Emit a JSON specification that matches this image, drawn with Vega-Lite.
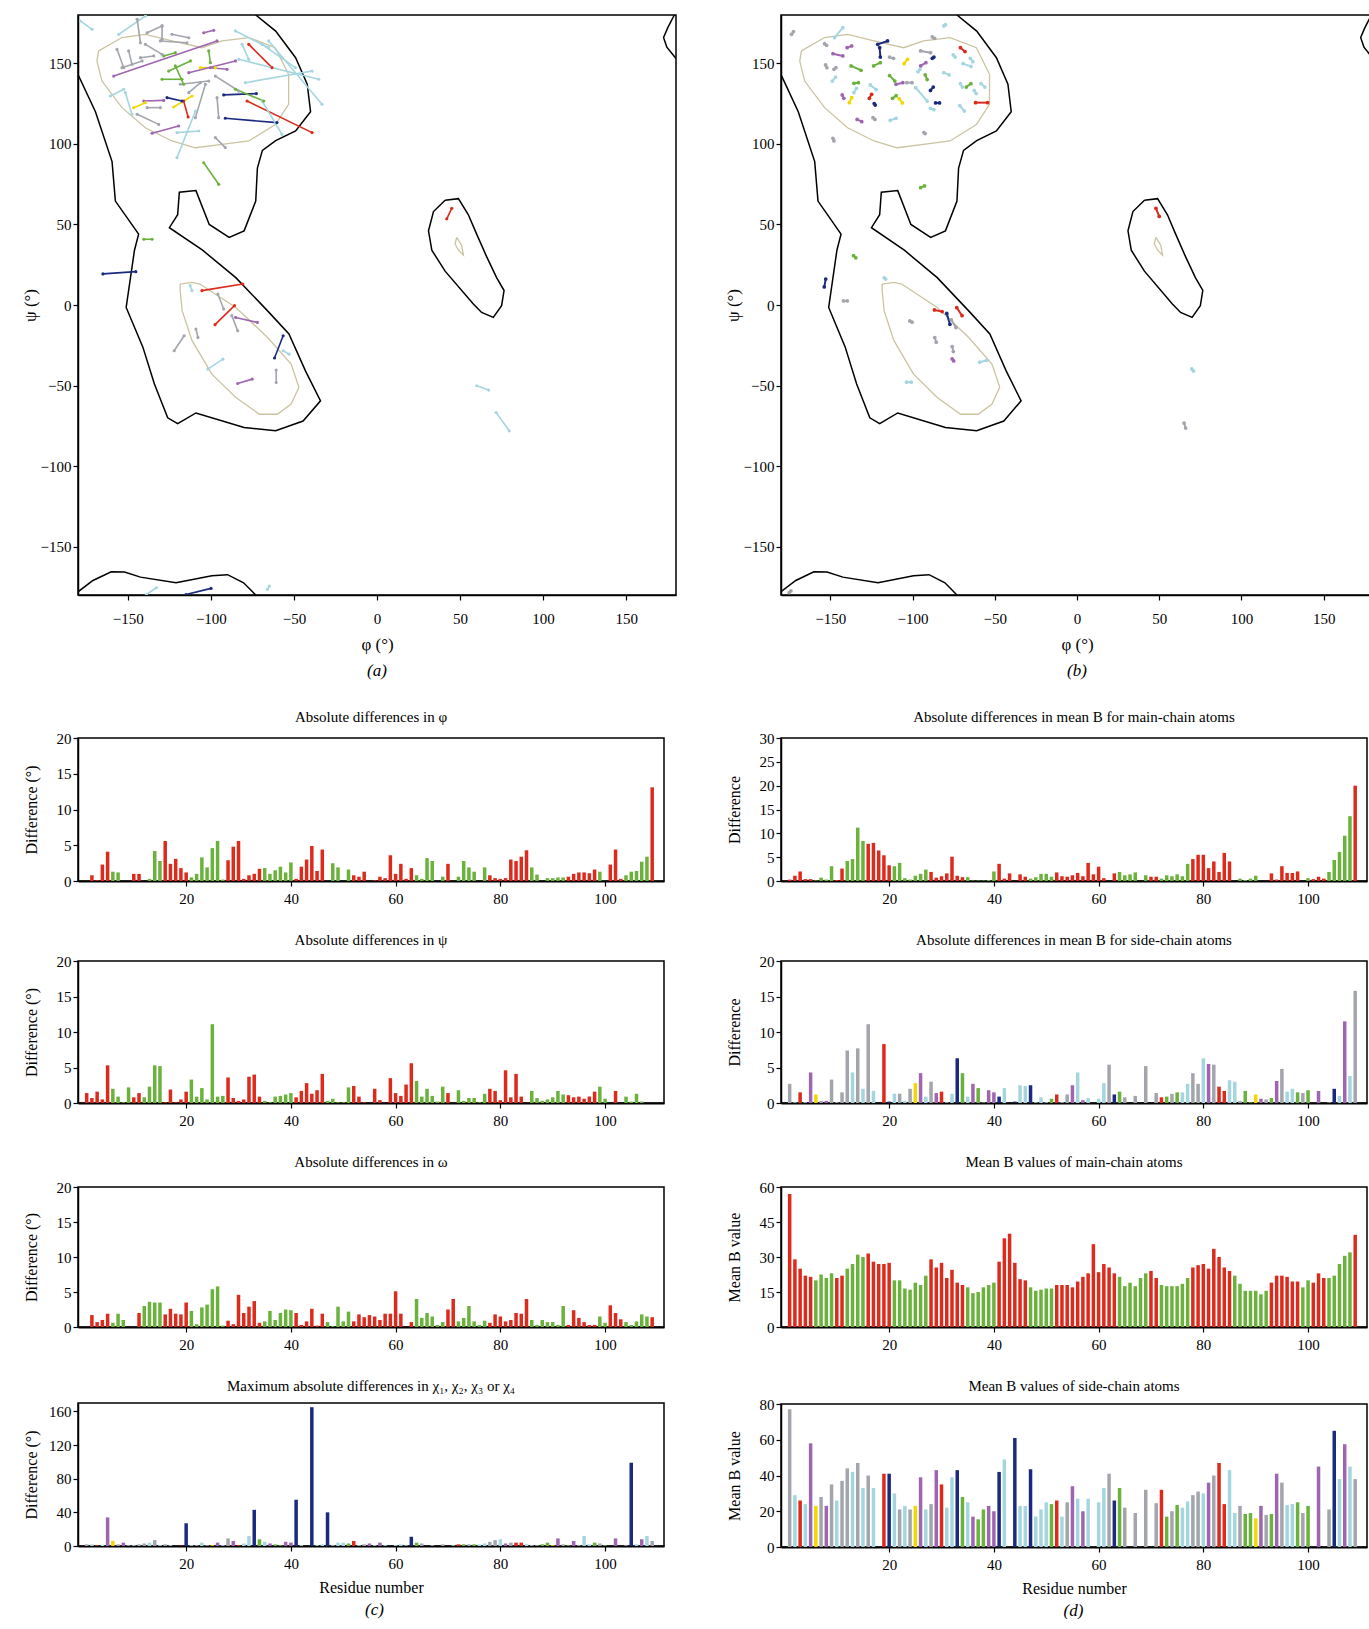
{
"$schema": "https://vega.github.io/schema/vega-lite/v6.json",
"padding": {"left": 20, "top": 14, "right": 0, "bottom": 0},
"autosize": {"type": "pad"},
"background": "white",
"config": {
  "font": "Liberation Serif",
  "view": {"stroke": "black", "strokeWidth": 1.5},
  "axis": {"grid": false, "domainColor": "black", "domainWidth": 1.5, "tickColor": "black", "tickSize": 5, "tickWidth": 1.2, "labelColor": "black", "titleColor": "black", "labelFontSize": 15, "titleFontSize": 16, "titleFontWeight": "normal", "labelFont": "Liberation Serif", "titleFont": "Liberation Serif"},
  "title": {"font": "Liberation Serif", "fontSize": 15, "fontWeight": "normal", "color": "black"}
},
"datasets": {
  "blk": [
    {"id":"k1","o":1,"x":-73,"y":180},{"id":"k1","o":2,"x":-61,"y":170},{"id":"k1","o":3,"x":-49,"y":153.5},{"id":"k1","o":4,"x":-42,"y":137},{"id":"k1","o":5,"x":-40,"y":120},{"id":"k1","o":6,"x":-49,"y":108},{"id":"k1","o":7,"x":-61,"y":102},{"id":"k1","o":8,"x":-69,"y":96},{"id":"k1","o":9,"x":-72,"y":85},{"id":"k1","o":10,"x":-73,"y":64.5},{"id":"k1","o":11,"x":-80,"y":46},{"id":"k1","o":12,"x":-89,"y":42},{"id":"k1","o":13,"x":-101,"y":50},{"id":"k1","o":14,"x":-109,"y":71},{"id":"k1","o":15,"x":-119,"y":70},{"id":"k1","o":16,"x":-120,"y":56},{"id":"k1","o":17,"x":-125,"y":48},{"id":"k1","o":18,"x":-105,"y":34},{"id":"k1","o":19,"x":-85,"y":17},{"id":"k1","o":20,"x":-66,"y":-3.5},{"id":"k1","o":21,"x":-53,"y":-18},{"id":"k1","o":22,"x":-43,"y":-41},{"id":"k1","o":23,"x":-34,"y":-59.5},{"id":"k1","o":24,"x":-44.5,"y":-72},{"id":"k1","o":25,"x":-61,"y":-78},{"id":"k1","o":26,"x":-80,"y":-76},{"id":"k1","o":27,"x":-109,"y":-67},{"id":"k1","o":28,"x":-120,"y":-73.6},{"id":"k1","o":29,"x":-126,"y":-70},{"id":"k1","o":30,"x":-134,"y":-49},{"id":"k1","o":31,"x":-141,"y":-26},{"id":"k1","o":32,"x":-151,"y":-1.5},{"id":"k1","o":33,"x":-146,"y":34},{"id":"k1","o":34,"x":-143.5,"y":44},{"id":"k1","o":35,"x":-157.5,"y":64.5},{"id":"k1","o":36,"x":-159.5,"y":89},{"id":"k1","o":37,"x":-169.5,"y":120},{"id":"k1","o":38,"x":-180,"y":143},
    {"id":"k2","o":1,"x":41,"y":65},{"id":"k2","o":2,"x":49,"y":66},{"id":"k2","o":3,"x":55,"y":56},{"id":"k2","o":4,"x":60,"y":44},{"id":"k2","o":5,"x":66,"y":30},{"id":"k2","o":6,"x":72,"y":17},{"id":"k2","o":7,"x":76.5,"y":9},{"id":"k2","o":8,"x":75,"y":-0.4},{"id":"k2","o":9,"x":70,"y":-7.7},{"id":"k2","o":10,"x":63,"y":-4.6},{"id":"k2","o":11,"x":58,"y":0.6},{"id":"k2","o":12,"x":41,"y":21},{"id":"k2","o":13,"x":33,"y":34},{"id":"k2","o":14,"x":31,"y":46},{"id":"k2","o":15,"x":34,"y":58},{"id":"k2","o":16,"x":41,"y":65},
    {"id":"k3","o":1,"x":179,"y":180},{"id":"k3","o":2,"x":175,"y":172},{"id":"k3","o":3,"x":172.5,"y":166},{"id":"k3","o":4,"x":174.5,"y":160},{"id":"k3","o":5,"x":180,"y":153},
    {"id":"k4","o":1,"x":-180,"y":-178},{"id":"k4","o":2,"x":-171,"y":-171},{"id":"k4","o":3,"x":-160,"y":-165.6},{"id":"k4","o":4,"x":-152,"y":-165.8},{"id":"k4","o":5,"x":-142.4,"y":-168.9},{"id":"k4","o":6,"x":-121,"y":-172.4},{"id":"k4","o":7,"x":-99.4,"y":-168},{"id":"k4","o":8,"x":-90,"y":-167.4},{"id":"k4","o":9,"x":-80.3,"y":-172.4},{"id":"k4","o":10,"x":-73,"y":-180}
  ],
  "bge": [
    {"id":"e1","o":1,"x":-167.6,"y":157.7},{"id":"e1","o":2,"x":-153.5,"y":166},{"id":"e1","o":3,"x":-139.5,"y":168},{"id":"e1","o":4,"x":-123.4,"y":163.9},{"id":"e1","o":5,"x":-105.4,"y":159.7},{"id":"e1","o":6,"x":-93.3,"y":163.9},{"id":"e1","o":7,"x":-77.2,"y":166},{"id":"e1","o":8,"x":-61.2,"y":159.7},{"id":"e1","o":9,"x":-53.2,"y":143.2},{"id":"e1","o":10,"x":-53.2,"y":124.6},{"id":"e1","o":11,"x":-61.2,"y":112},{"id":"e1","o":12,"x":-77.2,"y":101.8},{"id":"e1","o":13,"x":-93.3,"y":99.7},{"id":"e1","o":14,"x":-109.4,"y":97.6},{"id":"e1","o":15,"x":-123.4,"y":101.8},{"id":"e1","o":16,"x":-139.5,"y":110},{"id":"e1","o":17,"x":-153.5,"y":122.5},{"id":"e1","o":18,"x":-165.6,"y":139},{"id":"e1","o":19,"x":-168.6,"y":151.4},{"id":"e1","o":20,"x":-167.6,"y":157.7},
    {"id":"e2","o":1,"x":-118.5,"y":13},{"id":"e2","o":2,"x":-111.4,"y":14},{"id":"e2","o":3,"x":-106.6,"y":13},{"id":"e2","o":4,"x":-85,"y":-1.5},{"id":"e2","o":5,"x":-66,"y":-20},{"id":"e2","o":6,"x":-51.7,"y":-36.7},{"id":"e2","o":7,"x":-47,"y":-51},{"id":"e2","o":8,"x":-51.7,"y":-61.5},{"id":"e2","o":9,"x":-60,"y":-67.8},{"id":"e2","o":10,"x":-70.8,"y":-67.8},{"id":"e2","o":11,"x":-85,"y":-57.4},{"id":"e2","o":12,"x":-99.4,"y":-42.9},{"id":"e2","o":13,"x":-111.4,"y":-22},{"id":"e2","o":14,"x":-117.3,"y":-3.5},{"id":"e2","o":15,"x":-118.5,"y":9},{"id":"e2","o":16,"x":-118.5,"y":13},
    {"id":"e3","o":1,"x":48,"y":42},{"id":"e3","o":2,"x":51,"y":37},{"id":"e3","o":3,"x":52,"y":31},{"id":"e3","o":4,"x":49,"y":34},{"id":"e3","o":5,"x":47,"y":38},{"id":"e3","o":6,"x":48,"y":42}
  ],
  "segA": [
    {"x":-178.6,"y":176.3,"x2":-171.5,"y2":171.1,"c":"L"},{"x":-155.5,"y":168,"x2":-139.4,"y2":179.4,"c":"L"},{"x":-144.4,"y":177.3,"x2":-142.4,"y2":162.8,"c":"A"},{"x":-138.4,"y":169,"x2":-129.4,"y2":173.2,"c":"A"},{"x":-129.4,"y":173.2,"x2":-129.4,"y2":164.9,"c":"A"},{"x":-130.4,"y":163.9,"x2":-114.4,"y2":162.8,"c":"A"},{"x":-123.4,"y":168,"x2":-113.3,"y2":165.9,"c":"A"},{"x":-104.3,"y":169,"x2":-98.3,"y2":170.5,"c":"P"},{"x":-156.5,"y":158.7,"x2":-152.5,"y2":147.3,"c":"A"},{"x":-149.5,"y":157.7,"x2":-147.5,"y2":149.4,"c":"A"},{"x":-153.5,"y":147.3,"x2":-141.4,"y2":151.5,"c":"A"},{"x":-142.4,"y":153.5,"x2":-134.4,"y2":154.6,"c":"A"},{"x":-158.5,"y":142.1,"x2":-96.3,"y2":163.9,"c":"P"},{"x":-139.4,"y":161.8,"x2":-129.4,"y2":155.6,"c":"A"},{"x":-128.4,"y":154.6,"x2":-121.4,"y2":156.6,"c":"G"},{"x":-101.3,"y":157.7,"x2":-100.3,"y2":150.4,"c":"G"},{"x":-106.3,"y":147.3,"x2":-97.3,"y2":147.3,"c":"Y"},{"x":-113.3,"y":144.2,"x2":-85.2,"y2":151.5,"c":"P"},{"x":-100.3,"y":147.3,"x2":-90.3,"y2":146.3,"c":"P"},{"x":-125.4,"y":145.2,"x2":-112.3,"y2":151.5,"c":"G"},{"x":-129.4,"y":140.1,"x2":-117.4,"y2":140.1,"c":"G"},{"x":-121.4,"y":148.4,"x2":-116.4,"y2":137,"c":"G"},{"x":-85.2,"y":170.1,"x2":-65.2,"y2":159.7,"c":"L"},{"x":-81.2,"y":161.8,"x2":-77.2,"y2":152.5,"c":"L"},{"x":-77.2,"y":161.8,"x2":-63.2,"y2":147.3,"c":"R"},{"x":-83.2,"y":152.5,"x2":-35.1,"y2":140.1,"c":"L"},{"x":-69.2,"y":161.8,"x2":-49.1,"y2":147.3,"c":"L"},{"x":-65.2,"y":163.9,"x2":-33.1,"y2":124.6,"c":"L"},{"x":-79.2,"y":138,"x2":-39.1,"y2":145.2,"c":"L"},{"x":-97.3,"y":142.1,"x2":-83.2,"y2":132.8,"c":"A"},{"x":-160.5,"y":129.7,"x2":-152.5,"y2":133.9,"c":"L"},{"x":-151.5,"y":131.8,"x2":-147.5,"y2":118.4,"c":"L"},{"x":-146.5,"y":122.5,"x2":-139.4,"y2":125.6,"c":"Y"},{"x":-140.4,"y":126.6,"x2":-128.4,"y2":127,"c":"P"},{"x":-144.4,"y":118.4,"x2":-131.4,"y2":112.1,"c":"A"},{"x":-138.4,"y":122.5,"x2":-130.4,"y2":122.5,"c":"A"},{"x":-126.4,"y":128.7,"x2":-117.4,"y2":126.6,"c":"N"},{"x":-116.4,"y":126.6,"x2":-113.7,"y2":116.7,"c":"R"},{"x":-122.4,"y":122.9,"x2":-111.3,"y2":129.7,"c":"Y"},{"x":-118.4,"y":137,"x2":-101.3,"y2":139,"c":"A"},{"x":-113.3,"y":131.8,"x2":-106.3,"y2":138,"c":"A"},{"x":-103.3,"y":137,"x2":-109.3,"y2":116.3,"c":"A"},{"x":-92.3,"y":130.4,"x2":-72.6,"y2":131.2,"c":"N"},{"x":-85.2,"y":133.9,"x2":-68.2,"y2":126.6,"c":"G"},{"x":-91.3,"y":115.9,"x2":-60.2,"y2":113.2,"c":"N"},{"x":-78.2,"y":126.6,"x2":-39.1,"y2":107,"c":"R"},{"x":-96.3,"y":128.7,"x2":-95.3,"y2":116.3,"c":"A"},{"x":-135.4,"y":106.6,"x2":-119.4,"y2":111.1,"c":"P"},{"x":-120.4,"y":107,"x2":-107.3,"y2":108,"c":"L"},{"x":-120.4,"y":91.5,"x2":-109.3,"y2":120.4,"c":"L"},{"x":-97.3,"y":103.9,"x2":-91.3,"y2":97.7,"c":"A"},{"x":-69.2,"y":126.6,"x2":-57.2,"y2":105.9,"c":"L"},{"x":-104.3,"y":88.3,"x2":-95.3,"y2":74.9,"c":"G"},{"x":-140.4,"y":40.8,"x2":-135.4,"y2":40.8,"c":"G"},
    {"x":-165,"y":19.3,"x2":-145.2,"y2":20.7,"c":"N"},{"x":-105.4,"y":8.9,"x2":-80.8,"y2":13,"c":"R"},{"x":-112.5,"y":12,"x2":-111.4,"y2":8.9,"c":"L"},{"x":-97.5,"y":-12.2,"x2":-85.8,"y2":-0.4,"c":"R"},{"x":-95.8,"y":6.8,"x2":-92.3,"y2":-2.5,"c":"A"},{"x":-85.1,"y":-7.7,"x2":-72,"y2":-10.8,"c":"P"},{"x":-87.4,"y":-6.6,"x2":-83.9,"y2":-16,"c":"A"},{"x":-109,"y":-14.9,"x2":-107.8,"y2":-20.1,"c":"A"},{"x":-122.1,"y":-28.4,"x2":-116.1,"y2":-19.1,"c":"A"},{"x":-61.7,"y":-32.9,"x2":-56.5,"y2":-19.1,"c":"N"},{"x":-56.5,"y":-28.4,"x2":-52.9,"y2":-30.5,"c":"L"},{"x":-101.8,"y":-39.8,"x2":-92.8,"y2":-33.6,"c":"L"},{"x":-83.9,"y":-48.7,"x2":-75.1,"y2":-46,"c":"P"},{"x":-60.7,"y":-40.4,"x2":-60.7,"y2":-48.1,"c":"A"},{"x":60,"y":-50.1,"x2":67.2,"y2":-52.8,"c":"L"},{"x":71.7,"y":-66.7,"x2":79.6,"y2":-78.1,"c":"L"},{"x":-138.8,"y":-179.7,"x2":-132.8,"y2":-175.5,"c":"L"},{"x":-115,"y":-179.7,"x2":-99.9,"y2":-175.9,"c":"N"},{"x":-66,"y":-176.5,"x2":-64.8,"y2":-174.5,"c":"L"},{"x":42,"y":53.5,"x2":45,"y2":60,"c":"R"}
  ],
  "segB": [
    {"x":-173.6,"y":168,"x2":-172.4,"y2":169.7,"c":"A"},{"x":-147.4,"y":165.9,"x2":-142.4,"y2":172.1,"c":"L"},{"x":-153.5,"y":162.2,"x2":-152.3,"y2":161.2,"c":"A"},{"x":-148.4,"y":156,"x2":-142.4,"y2":154.6,"c":"P"},{"x":-139.8,"y":159.7,"x2":-137,"y2":160.8,"c":"P"},{"x":-152.9,"y":149,"x2":-152.1,"y2":147.3,"c":"A"},{"x":-147.8,"y":146.3,"x2":-146.6,"y2":147.3,"c":"A"},{"x":-148.8,"y":139,"x2":-146.8,"y2":141.5,"c":"L"},{"x":-137.4,"y":148.4,"x2":-131.3,"y2":145.7,"c":"G"},{"x":-123.7,"y":148.4,"x2":-119.6,"y2":150.4,"c":"G"},{"x":-121.2,"y":161.8,"x2":-115.2,"y2":163.9,"c":"N"},{"x":-120,"y":159.7,"x2":-119.6,"y2":153.9,"c":"N"},{"x":-114,"y":153.9,"x2":-111.6,"y2":153.1,"c":"A"},{"x":-105.1,"y":149.8,"x2":-103.1,"y2":152.5,"c":"Y"},{"x":-95.1,"y":157.7,"x2":-89,"y2":156.6,"c":"A"},{"x":-88,"y":153.1,"x2":-87,"y2":153.9,"c":"N"},{"x":-95.1,"y":148.4,"x2":-91.9,"y2":150.4,"c":"P"},{"x":-96.7,"y":144.8,"x2":-95.5,"y2":146.3,"c":"L"},{"x":-92.3,"y":142.8,"x2":-91.1,"y2":139.9,"c":"G"},{"x":-114,"y":142.4,"x2":-110.8,"y2":139,"c":"G"},{"x":-110,"y":137,"x2":-105.9,"y2":138,"c":"P"},{"x":-103.5,"y":138,"x2":-100.3,"y2":138,"c":"A"},{"x":-98.1,"y":134.9,"x2":-91.1,"y2":126.6,"c":"L"},{"x":-89.1,"y":133.2,"x2":-87.4,"y2":135.3,"c":"N"},{"x":-86,"y":125.4,"x2":-83.6,"y2":125.4,"c":"N"},{"x":-112.2,"y":128.3,"x2":-110,"y2":129.9,"c":"G"},{"x":-108.2,"y":128.1,"x2":-106.2,"y2":125.4,"c":"Y"},{"x":-126.3,"y":128.3,"x2":-124.9,"y2":130.8,"c":"R"},{"x":-123.3,"y":125,"x2":-122.7,"y2":124.1,"c":"N"},{"x":-142.8,"y":130.4,"x2":-141.8,"y2":128.3,"c":"P"},{"x":-138.4,"y":125.6,"x2":-137,"y2":128.7,"c":"Y"},{"x":-135.7,"y":131.8,"x2":-134.1,"y2":134.5,"c":"L"},{"x":-135.7,"y":137.6,"x2":-132.9,"y2":138,"c":"G"},{"x":-125.7,"y":136.6,"x2":-122.1,"y2":133.7,"c":"L"},{"x":-124.1,"y":116.3,"x2":-122.9,"y2":115.2,"c":"A"},{"x":-133.7,"y":115.2,"x2":-130.9,"y2":113.8,"c":"P"},{"x":-113.6,"y":114.6,"x2":-110,"y2":115.9,"c":"L"},{"x":-93.1,"y":107,"x2":-92.3,"y2":106.4,"c":"A"},{"x":-148.4,"y":103.5,"x2":-147.8,"y2":101.8,"c":"A"},{"x":-70.9,"y":159.7,"x2":-68.1,"y2":157.3,"c":"R"},{"x":-75.3,"y":155.2,"x2":-74.1,"y2":153.9,"c":"L"},{"x":-69.3,"y":149.8,"x2":-64.5,"y2":148.1,"c":"L"},{"x":-64.9,"y":153.1,"x2":-63.3,"y2":151,"c":"L"},{"x":-81,"y":144.2,"x2":-77.8,"y2":142.8,"c":"L"},{"x":-70.9,"y":137.4,"x2":-69.7,"y2":135.3,"c":"L"},{"x":-67.3,"y":135.3,"x2":-64.5,"y2":137.4,"c":"G"},{"x":-58.4,"y":137.4,"x2":-56,"y2":135.3,"c":"L"},{"x":-61.7,"y":125.6,"x2":-54.4,"y2":125.6,"c":"R"},{"x":-71.3,"y":123.7,"x2":-68.5,"y2":120.4,"c":"L"},{"x":-89.1,"y":122.1,"x2":-87,"y2":121.2,"c":"L"},{"x":-81,"y":173.2,"x2":-80,"y2":174,"c":"L"},{"x":-88,"y":166.4,"x2":-86.6,"y2":165.5,"c":"A"},{"x":-95.1,"y":72.8,"x2":-92.7,"y2":73.9,"c":"G"},{"x":-62.5,"y":133.2,"x2":-61.3,"y2":131.2,"c":"L"},
    {"x":-135.9,"y":30.6,"x2":-134.5,"y2":29.3,"c":"G"},{"x":-152.8,"y":16.1,"x2":-153.7,"y2":11.2,"c":"N"},{"x":-117.2,"y":16.9,"x2":-116.3,"y2":16.1,"c":"L"},{"x":-142,"y":2.5,"x2":-139.7,"y2":2.5,"c":"A"},{"x":-86.7,"y":-3.1,"x2":-82,"y2":-4.1,"c":"R"},{"x":-73.1,"y":-1.7,"x2":-69.9,"y2":-6.6,"c":"R"},{"x":-79.2,"y":-5.2,"x2":-77.3,"y2":-12,"c":"N"},{"x":-76.4,"y":-9.3,"x2":-73.6,"y2":-14,"c":"A"},{"x":-101.7,"y":-9.9,"x2":-100.3,"y2":-10.7,"c":"A"},{"x":-86.5,"y":-20.2,"x2":-85.6,"y2":-23.1,"c":"A"},{"x":-75.9,"y":-25.8,"x2":-75.2,"y2":-28.9,"c":"A"},{"x":-75.9,"y":-33.5,"x2":-75,"y2":-34.7,"c":"P"},{"x":-59.1,"y":-35.5,"x2":-54.9,"y2":-34.3,"c":"L"},{"x":-103.6,"y":-47.9,"x2":-100.8,"y2":-47.9,"c":"L"},{"x":69.8,"y":-39.7,"x2":70.8,"y2":-40.9,"c":"L"},{"x":65.1,"y":-73.3,"x2":66.1,"y2":-76.4,"c":"A"},{"x":48,"y":60,"x2":50,"y2":55,"c":"R"},{"x":-175,"y":-178.5,"x2":-174,"y2":-177.5,"c":"A"}
  ],
  "res": [
    {"r":1,"ss":"R","sc":"A","phi":null,"psi":1.4,"om":null,"chi":2,"dbm":0.3,"dbs":2.7,"bm":57,"bs":77},
    {"r":2,"ss":"R","sc":"L","phi":0.8,"psi":0.7,"om":1.7,"chi":2,"dbm":1.1,"dbs":0.1,"bm":29,"bs":29},
    {"r":3,"ss":"R","sc":"R","phi":0.1,"psi":1.6,"om":0.7,"chi":1,"dbm":2.0,"dbs":1.5,"bm":25,"bs":26},
    {"r":4,"ss":"R","sc":"L","phi":2.3,"psi":0.5,"om":1.0,"chi":1.5,"dbm":0.4,"dbs":0.1,"bm":22,"bs":24},
    {"r":5,"ss":"R","sc":"P","phi":4.1,"psi":5.3,"om":1.9,"chi":34,"dbm":0.4,"dbs":4.3,"bm":21.5,"bs":58},
    {"r":6,"ss":"G","sc":"Y","phi":1.3,"psi":2.0,"om":0.6,"chi":6,"dbm":0.1,"dbs":1.2,"bm":20,"bs":23},
    {"r":7,"ss":"G","sc":"A","phi":1.2,"psi":0.9,"om":1.9,"chi":2,"dbm":0.7,"dbs":0.3,"bm":22.5,"bs":28},
    {"r":8,"ss":"G","sc":"P","phi":null,"psi":0.1,"om":1.0,"chi":4,"dbm":0.3,"dbs":0.3,"bm":21,"bs":23},
    {"r":9,"ss":"G","sc":"A","phi":null,"psi":2.2,"om":null,"chi":1,"dbm":3.1,"dbs":3.3,"bm":23,"bs":35},
    {"r":10,"ss":"R","sc":"L","phi":1.0,"psi":0.8,"om":null,"chi":1,"dbm":0.2,"dbs":0.1,"bm":21,"bs":26},
    {"r":11,"ss":"R","sc":"A","phi":1.0,"psi":1.4,"om":2.0,"chi":2,"dbm":2.6,"dbs":1.5,"bm":22,"bs":37},
    {"r":12,"ss":"G","sc":"A","phi":null,"psi":0.8,"om":3.0,"chi":3,"dbm":4.2,"dbs":7.4,"bm":25,"bs":44},
    {"r":13,"ss":"G","sc":"L","phi":0.3,"psi":2.3,"om":3.6,"chi":4,"dbm":4.6,"dbs":4.3,"bm":27,"bs":42},
    {"r":14,"ss":"G","sc":"A","phi":4.2,"psi":5.3,"om":3.5,"chi":7,"dbm":11.2,"dbs":7.7,"bm":31,"bs":47},
    {"r":15,"ss":"G","sc":"L","phi":2.8,"psi":5.2,"om":3.5,"chi":1,"dbm":8.4,"dbs":2.0,"bm":30,"bs":33},
    {"r":16,"ss":"R","sc":"A","phi":5.6,"psi":0.1,"om":1.8,"chi":2,"dbm":7.8,"dbs":11.1,"bm":31.5,"bs":40},
    {"r":17,"ss":"R","sc":"L","phi":2.4,"psi":1.9,"om":2.6,"chi":1,"dbm":8.0,"dbs":1.7,"bm":28,"bs":33},
    {"r":18,"ss":"R","sc":"A","phi":3.1,"psi":0.1,"om":1.9,"chi":null,"dbm":6.4,"dbs":null,"bm":27,"bs":null},
    {"r":19,"ss":"R","sc":"R","phi":1.8,"psi":0.5,"om":1.8,"chi":0.5,"dbm":5.4,"dbs":8.3,"bm":27,"bs":41},
    {"r":20,"ss":"R","sc":"N","phi":1.2,"psi":1.6,"om":3.5,"chi":27,"dbm":3.3,"dbs":0.2,"bm":27.5,"bs":41},
    {"r":21,"ss":"G","sc":"L","phi":0.5,"psi":3.3,"om":2.3,"chi":1,"dbm":3.1,"dbs":1.3,"bm":20,"bs":30},
    {"r":22,"ss":"G","sc":"A","phi":1.0,"psi":0.9,"om":0.4,"chi":1,"dbm":3.8,"dbs":1.3,"bm":20,"bs":21},
    {"r":23,"ss":"G","sc":"L","phi":3.3,"psi":2.1,"om":2.8,"chi":4,"dbm":0.6,"dbs":0.3,"bm":16.5,"bs":23},
    {"r":24,"ss":"G","sc":"A","phi":1.9,"psi":0.5,"om":3.2,"chi":1,"dbm":0.3,"dbs":2.0,"bm":16,"bs":21},
    {"r":25,"ss":"G","sc":"Y","phi":4.6,"psi":11.1,"om":5.4,"chi":1,"dbm":1.1,"dbs":2.8,"bm":19,"bs":23},
    {"r":26,"ss":"G","sc":"P","phi":5.6,"psi":0.9,"om":5.8,"chi":4,"dbm":1.5,"dbs":4.2,"bm":18,"bs":39},
    {"r":27,"ss":"G","sc":"L","phi":0.2,"psi":1.0,"om":0.2,"chi":1,"dbm":2.4,"dbs":0.9,"bm":22,"bs":21},
    {"r":28,"ss":"R","sc":"A","phi":2.9,"psi":3.6,"om":0.9,"chi":9,"dbm":1.9,"dbs":3.0,"bm":29,"bs":24},
    {"r":29,"ss":"R","sc":"P","phi":4.8,"psi":0.7,"om":0.4,"chi":6,"dbm":0.7,"dbs":1.4,"bm":25.5,"bs":43},
    {"r":30,"ss":"R","sc":"R","phi":5.6,"psi":0.3,"om":4.6,"chi":1,"dbm":1.0,"dbs":1.6,"bm":27.5,"bs":35},
    {"r":31,"ss":"R","sc":"L","phi":0.3,"psi":0.5,"om":2.0,"chi":3,"dbm":1.6,"dbs":0.1,"bm":21,"bs":22},
    {"r":32,"ss":"R","sc":"L","phi":0.8,"psi":3.7,"om":2.9,"chi":12,"dbm":5.1,"dbs":1.3,"bm":24.5,"bs":39},
    {"r":33,"ss":"R","sc":"N","phi":1.0,"psi":4.0,"om":3.7,"chi":43,"dbm":1.1,"dbs":6.3,"bm":19,"bs":43},
    {"r":34,"ss":"R","sc":"G","phi":1.7,"psi":0.9,"om":0.6,"chi":8,"dbm":0.8,"dbs":4.2,"bm":18,"bs":28},
    {"r":35,"ss":"G","sc":"L","phi":1.8,"psi":0.3,"om":0.8,"chi":5,"dbm":0.8,"dbs":0.9,"bm":17,"bs":25},
    {"r":36,"ss":"G","sc":"P","phi":1.0,"psi":0.1,"om":2.3,"chi":3,"dbm":0.1,"dbs":2.7,"bm":14.5,"bs":17},
    {"r":37,"ss":"G","sc":"G","phi":1.5,"psi":0.9,"om":1.0,"chi":2,"dbm":0.1,"dbs":2.1,"bm":15,"bs":15.5},
    {"r":38,"ss":"G","sc":"G","phi":2.0,"psi":1.0,"om":2.0,"chi":1,"dbm":0.1,"dbs":0.1,"bm":17,"bs":21},
    {"r":39,"ss":"G","sc":"P","phi":1.2,"psi":1.2,"om":2.5,"chi":5,"dbm":0.2,"dbs":1.8,"bm":18,"bs":23},
    {"r":40,"ss":"G","sc":"P","phi":2.6,"psi":1.4,"om":2.4,"chi":4,"dbm":2.0,"dbs":1.5,"bm":19,"bs":20},
    {"r":41,"ss":"R","sc":"N","phi":0.3,"psi":0.8,"om":2.0,"chi":55,"dbm":3.6,"dbs":0.9,"bm":28,"bs":42},
    {"r":42,"ss":"R","sc":"L","phi":2.0,"psi":1.7,"om":0.3,"chi":1,"dbm":0.5,"dbs":2.1,"bm":38,"bs":49},
    {"r":43,"ss":"R","sc":"A","phi":3.0,"psi":2.8,"om":0.8,"chi":null,"dbm":1.6,"dbs":null,"bm":40,"bs":null},
    {"r":44,"ss":"R","sc":"N","phi":4.9,"psi":1.3,"om":2.6,"chi":165,"dbm":null,"dbs":0.2,"bm":27.5,"bs":61},
    {"r":45,"ss":"R","sc":"L","phi":1.4,"psi":1.8,"om":0.2,"chi":1,"dbm":1.4,"dbs":2.5,"bm":20.5,"bs":23},
    {"r":46,"ss":"R","sc":"L","phi":4.4,"psi":4.1,"om":1.9,"chi":2,"dbm":0.9,"dbs":2.4,"bm":20,"bs":23},
    {"r":47,"ss":"G","sc":"N","phi":null,"psi":0.3,"om":0.7,"chi":40,"dbm":0.5,"dbs":2.5,"bm":17,"bs":43.5},
    {"r":48,"ss":"G","sc":"L","phi":2.5,"psi":0.6,"om":0.1,"chi":1,"dbm":0.8,"dbs":0.1,"bm":15.5,"bs":17},
    {"r":49,"ss":"G","sc":"L","phi":1.9,"psi":0.1,"om":2.9,"chi":4,"dbm":1.5,"dbs":0.8,"bm":16,"bs":21},
    {"r":50,"ss":"G","sc":"L","phi":null,"psi":0.1,"om":0.8,"chi":4,"dbm":1.5,"dbs":0.1,"bm":16.5,"bs":25},
    {"r":51,"ss":"G","sc":"G","phi":1.6,"psi":2.2,"om":2.2,"chi":3,"dbm":0.9,"dbs":0.6,"bm":16.5,"bs":24},
    {"r":52,"ss":"R","sc":"R","phi":0.8,"psi":2.4,"om":0.8,"chi":6,"dbm":1.8,"dbs":1.2,"bm":18,"bs":26},
    {"r":53,"ss":"R","sc":"L","phi":0.6,"psi":0.9,"om":1.8,"chi":1,"dbm":1.0,"dbs":0.1,"bm":18,"bs":17},
    {"r":54,"ss":"R","sc":"A","phi":1.3,"psi":0.1,"om":1.4,"chi":2,"dbm":0.9,"dbs":1.2,"bm":18,"bs":25},
    {"r":55,"ss":"R","sc":"P","phi":null,"psi":null,"om":1.7,"chi":3,"dbm":1.2,"dbs":2.5,"bm":17,"bs":34},
    {"r":56,"ss":"R","sc":"L","phi":0.1,"psi":2.0,"om":1.5,"chi":1,"dbm":1.7,"dbs":4.3,"bm":19.5,"bs":27},
    {"r":57,"ss":"R","sc":"P","phi":0.6,"psi":0.4,"om":1.0,"chi":4,"dbm":1.0,"dbs":0.4,"bm":21.5,"bs":20},
    {"r":58,"ss":"R","sc":"L","phi":0.4,"psi":null,"om":1.9,"chi":1,"dbm":3.8,"dbs":0.7,"bm":23,"bs":27},
    {"r":59,"ss":"R","sc":"A","phi":3.6,"psi":3.5,"om":1.9,"chi":null,"dbm":1.4,"dbs":null,"bm":35.5,"bs":null},
    {"r":60,"ss":"R","sc":"L","phi":1.0,"psi":1.4,"om":5.1,"chi":1,"dbm":3.0,"dbs":0.6,"bm":23.5,"bs":25},
    {"r":61,"ss":"R","sc":"L","phi":2.4,"psi":1.0,"om":1.9,"chi":2,"dbm":0.6,"dbs":2.8,"bm":27,"bs":33},
    {"r":62,"ss":"R","sc":"A","phi":0.3,"psi":2.6,"om":null,"chi":1,"dbm":null,"dbs":5.4,"bm":25.5,"bs":41},
    {"r":63,"ss":"R","sc":"N","phi":1.8,"psi":5.6,"om":0.7,"chi":11,"dbm":1.6,"dbs":1.2,"bm":23,"bs":26},
    {"r":64,"ss":"G","sc":"G","phi":0.8,"psi":3.1,"om":4.0,"chi":4,"dbm":1.9,"dbs":1.6,"bm":21.5,"bs":33},
    {"r":65,"ss":"G","sc":"A","phi":0.3,"psi":0.9,"om":1.3,"chi":3,"dbm":1.2,"dbs":0.8,"bm":17.5,"bs":22},
    {"r":66,"ss":"G","sc":"A","phi":3.2,"psi":2.0,"om":2.0,"chi":null,"dbm":1.4,"dbs":null,"bm":19,"bs":null},
    {"r":67,"ss":"G","sc":"A","phi":2.8,"psi":1.0,"om":1.5,"chi":1,"dbm":1.8,"dbs":1.0,"bm":17.5,"bs":19},
    {"r":68,"ss":"G","sc":"A","phi":null,"psi":0.2,"om":0.3,"chi":null,"dbm":null,"dbs":null,"bm":21,"bs":null},
    {"r":69,"ss":"G","sc":"A","phi":0.6,"psi":2.3,"om":0.7,"chi":2,"dbm":1.2,"dbs":5.2,"bm":23,"bs":32},
    {"r":70,"ss":"R","sc":"A","phi":2.4,"psi":1.4,"om":2.5,"chi":null,"dbm":0.9,"dbs":null,"bm":24,"bs":null},
    {"r":71,"ss":"R","sc":"A","phi":null,"psi":null,"om":4.0,"chi":1,"dbm":0.9,"dbs":1.4,"bm":21,"bs":24.5},
    {"r":72,"ss":"G","sc":"R","phi":0.6,"psi":1.8,"om":0.8,"chi":2,"dbm":0.5,"dbs":0.8,"bm":18,"bs":32},
    {"r":73,"ss":"G","sc":"G","phi":2.8,"psi":0.3,"om":1.3,"chi":2,"dbm":1.2,"dbs":0.9,"bm":17.5,"bs":17},
    {"r":74,"ss":"G","sc":"A","phi":1.9,"psi":0.7,"om":3.0,"chi":2,"dbm":1.0,"dbs":1.3,"bm":17.5,"bs":20},
    {"r":75,"ss":"G","sc":"G","phi":1.3,"psi":0.7,"om":0.8,"chi":2,"dbm":1.4,"dbs":1.5,"bm":17.5,"bs":23.5},
    {"r":76,"ss":"G","sc":"L","phi":null,"psi":0.1,"om":0.3,"chi":2,"dbm":1.0,"dbs":1.5,"bm":18.5,"bs":22},
    {"r":77,"ss":"G","sc":"L","phi":1.9,"psi":1.3,"om":0.9,"chi":3,"dbm":3.6,"dbs":2.7,"bm":21,"bs":25.5},
    {"r":78,"ss":"R","sc":"A","phi":0.8,"psi":2.0,"om":0.6,"chi":5,"dbm":4.6,"dbs":4.2,"bm":25.5,"bs":29},
    {"r":79,"ss":"R","sc":"A","phi":0.4,"psi":1.7,"om":1.8,"chi":7,"dbm":5.5,"dbs":2.7,"bm":26.5,"bs":31},
    {"r":80,"ss":"R","sc":"L","phi":0.3,"psi":0.4,"om":1.5,"chi":8,"dbm":5.5,"dbs":6.3,"bm":27,"bs":30},
    {"r":81,"ss":"R","sc":"P","phi":0.4,"psi":4.6,"om":0.8,"chi":3,"dbm":2.7,"dbs":5.5,"bm":25,"bs":36},
    {"r":82,"ss":"R","sc":"A","phi":3.0,"psi":0.8,"om":1.0,"chi":4,"dbm":4.1,"dbs":5.4,"bm":33.5,"bs":40},
    {"r":83,"ss":"R","sc":"R","phi":2.8,"psi":4.1,"om":2.0,"chi":4,"dbm":1.9,"dbs":2.3,"bm":30,"bs":47},
    {"r":84,"ss":"R","sc":"R","phi":3.4,"psi":0.9,"om":1.9,"chi":4,"dbm":5.9,"dbs":1.7,"bm":25.5,"bs":24},
    {"r":85,"ss":"R","sc":"L","phi":4.3,"psi":null,"om":4.0,"chi":2,"dbm":4.1,"dbs":3.2,"bm":24,"bs":43},
    {"r":86,"ss":"G","sc":"L","phi":1.9,"psi":1.7,"om":1.0,"chi":1,"dbm":null,"dbs":3.0,"bm":22,"bs":19},
    {"r":87,"ss":"G","sc":"A","phi":0.9,"psi":0.7,"om":0.3,"chi":1,"dbm":0.5,"dbs":0.3,"bm":18.5,"bs":23},
    {"r":88,"ss":"G","sc":"G","phi":null,"psi":0.3,"om":1.0,"chi":2,"dbm":0.2,"dbs":1.7,"bm":15.5,"bs":18.5},
    {"r":89,"ss":"G","sc":"G","phi":0.4,"psi":0.5,"om":0.7,"chi":4,"dbm":0.5,"dbs":0.1,"bm":15.5,"bs":19},
    {"r":90,"ss":"G","sc":"Y","phi":0.4,"psi":0.8,"om":0.7,"chi":1,"dbm":1.1,"dbs":1.2,"bm":15.5,"bs":16},
    {"r":91,"ss":"G","sc":"P","phi":0.5,"psi":1.7,"om":0.3,"chi":9,"dbm":null,"dbs":0.6,"bm":14,"bs":23},
    {"r":92,"ss":"G","sc":"A","phi":0.5,"psi":1.2,"om":3.0,"chi":2,"dbm":null,"dbs":0.5,"bm":15.5,"bs":18},
    {"r":93,"ss":"R","sc":"G","phi":0.6,"psi":1.1,"om":0.3,"chi":1,"dbm":1.6,"dbs":0.7,"bm":19,"bs":18.5},
    {"r":94,"ss":"R","sc":"P","phi":1.0,"psi":0.8,"om":2.4,"chi":6,"dbm":0.3,"dbs":3.1,"bm":22,"bs":41},
    {"r":95,"ss":"R","sc":"A","phi":1.2,"psi":0.9,"om":1.3,"chi":1,"dbm":3.1,"dbs":4.8,"bm":22,"bs":36},
    {"r":96,"ss":"R","sc":"L","phi":1.2,"psi":0.6,"om":0.7,"chi":12,"dbm":1.7,"dbs":1.6,"bm":21.5,"bs":23.5},
    {"r":97,"ss":"R","sc":"L","phi":1.1,"psi":0.9,"om":0.3,"chi":2,"dbm":1.7,"dbs":2.0,"bm":19.5,"bs":24},
    {"r":98,"ss":"R","sc":"G","phi":1.6,"psi":1.6,"om":0.3,"chi":4,"dbm":2.0,"dbs":1.5,"bm":19.5,"bs":25},
    {"r":99,"ss":"G","sc":"A","phi":1.3,"psi":2.3,"om":1.5,"chi":3,"dbm":null,"dbs":1.4,"bm":17,"bs":19},
    {"r":100,"ss":"G","sc":"G","phi":null,"psi":0.6,"om":0.6,"chi":1,"dbm":0.6,"dbs":1.8,"bm":20,"bs":23},
    {"r":101,"ss":"R","sc":"A","phi":2.3,"psi":null,"om":3.1,"chi":null,"dbm":0.4,"dbs":null,"bm":19,"bs":null},
    {"r":102,"ss":"R","sc":"P","phi":4.4,"psi":1.7,"om":2.0,"chi":9,"dbm":0.9,"dbs":1.7,"bm":23,"bs":45},
    {"r":103,"ss":"R","sc":"A","phi":0.3,"psi":null,"om":1.1,"chi":null,"dbm":0.5,"dbs":null,"bm":21,"bs":null},
    {"r":104,"ss":"G","sc":"A","phi":0.8,"psi":0.9,"om":0.7,"chi":1,"dbm":1.9,"dbs":0.1,"bm":21,"bs":21},
    {"r":105,"ss":"G","sc":"N","phi":1.3,"psi":0.2,"om":0.3,"chi":99,"dbm":4.4,"dbs":2.0,"bm":22,"bs":65},
    {"r":106,"ss":"G","sc":"L","phi":1.4,"psi":1.3,"om":0.8,"chi":2,"dbm":6.1,"dbs":1.0,"bm":27,"bs":38},
    {"r":107,"ss":"G","sc":"P","phi":2.7,"psi":0.2,"om":1.8,"chi":8,"dbm":9.5,"dbs":11.5,"bm":30.5,"bs":57.5},
    {"r":108,"ss":"G","sc":"L","phi":3.4,"psi":null,"om":1.5,"chi":12,"dbm":13.6,"dbs":3.8,"bm":32,"bs":45},
    {"r":109,"ss":"R","sc":"A","phi":13.1,"psi":null,"om":1.4,"chi":6,"dbm":20.0,"dbs":15.8,"bm":39.5,"bs":38}
  ]
},
"vconcat": [
  {
    "hconcat": [
      {
        "width": 598, "height": 580,
        "title": {"text": "(a)", "orient": "bottom", "fontStyle": "italic", "fontSize": 17, "offset": 11},
        "layer": [
          {"data": {"name": "blk"}, "mark": {"type": "line", "color": "black", "strokeWidth": 1.5, "clip": true},
           "encoding": {
             "x": {"field": "x", "type": "quantitative", "scale": {"domain": [-180, 180], "nice": false, "zero": false}, "axis": {"values": [-150, -100, -50, 0, 50, 100, 150], "title": "φ (°)", "labelPadding": 11, "titlePadding": 10, "titleFontSize": 17}},
             "y": {"field": "y", "type": "quantitative", "scale": {"domain": [-180, 180], "nice": false, "zero": false}, "axis": {"values": [-150, -100, -50, 0, 50, 100, 150], "title": "ψ (°)", "minExtent": 38, "maxExtent": 38, "titlePadding": 1, "titleFontSize": 17}},
             "detail": {"field": "id"}, "order": {"field": "o"}}},
          {"data": {"name": "bge"}, "mark": {"type": "line", "color": "#cbc3a0", "strokeWidth": 1.3, "clip": true},
           "encoding": {"x": {"field": "x", "type": "quantitative"}, "y": {"field": "y", "type": "quantitative"}, "detail": {"field": "id"}, "order": {"field": "o"}}},
          {"data": {"name": "segA"}, "mark": {"type": "rule", "strokeWidth": 1.6, "clip": true},
           "encoding": {"x": {"field": "x", "type": "quantitative"}, "y": {"field": "y", "type": "quantitative"}, "x2": {"field": "x2"}, "y2": {"field": "y2"},
             "color": {"field": "c", "type": "nominal", "scale": {"domain": ["R","G","N","P","L","A","Y"], "range": ["#dc2a1c","#6bb23c","#1b2a7e","#9e66b0","#a5d6df","#a3a5ad","#f0d800"]}, "legend": null}}},
          {"data": {"name": "segA"}, "mark": {"type": "point", "filled": true, "size": 10, "opacity": 1, "clip": true},
           "encoding": {"x": {"field": "x", "type": "quantitative"}, "y": {"field": "y", "type": "quantitative"},
             "color": {"field": "c", "type": "nominal", "scale": {"domain": ["R","G","N","P","L","A","Y"], "range": ["#dc2a1c","#6bb23c","#1b2a7e","#9e66b0","#a5d6df","#a3a5ad","#f0d800"]}, "legend": null}}},
          {"data": {"name": "segA"}, "mark": {"type": "point", "filled": true, "size": 10, "opacity": 1, "clip": true},
           "encoding": {"x": {"field": "x2", "type": "quantitative", "title": "φ (°)"}, "y": {"field": "y2", "type": "quantitative", "title": "ψ (°)"},
             "color": {"field": "c", "type": "nominal", "scale": {"domain": ["R","G","N","P","L","A","Y"], "range": ["#dc2a1c","#6bb23c","#1b2a7e","#9e66b0","#a5d6df","#a3a5ad","#f0d800"]}, "legend": null}}}
        ]
      },
      {
        "width": 592, "height": 580,
        "title": {"text": "(b)", "orient": "bottom", "fontStyle": "italic", "fontSize": 17, "offset": 11},
        "layer": [
          {"data": {"name": "blk"}, "mark": {"type": "line", "color": "black", "strokeWidth": 1.5, "clip": true},
           "encoding": {
             "x": {"field": "x", "type": "quantitative", "scale": {"domain": [-180, 180], "nice": false, "zero": false}, "axis": {"values": [-150, -100, -50, 0, 50, 100, 150], "title": "φ (°)", "labelPadding": 11, "titlePadding": 10, "titleFontSize": 17}},
             "y": {"field": "y", "type": "quantitative", "scale": {"domain": [-180, 180], "nice": false, "zero": false}, "axis": {"values": [-150, -100, -50, 0, 50, 100, 150], "title": "ψ (°)", "minExtent": 38, "maxExtent": 38, "titlePadding": 1, "titleFontSize": 17}},
             "detail": {"field": "id"}, "order": {"field": "o"}}},
          {"data": {"name": "bge"}, "mark": {"type": "line", "color": "#cbc3a0", "strokeWidth": 1.3, "clip": true},
           "encoding": {"x": {"field": "x", "type": "quantitative"}, "y": {"field": "y", "type": "quantitative"}, "detail": {"field": "id"}, "order": {"field": "o"}}},
          {"data": {"name": "segB"}, "mark": {"type": "rule", "strokeWidth": 2, "clip": true},
           "encoding": {"x": {"field": "x", "type": "quantitative"}, "y": {"field": "y", "type": "quantitative"}, "x2": {"field": "x2"}, "y2": {"field": "y2"},
             "color": {"field": "c", "type": "nominal", "scale": {"domain": ["R","G","N","P","L","A","Y"], "range": ["#dc2a1c","#6bb23c","#1b2a7e","#9e66b0","#a5d6df","#a3a5ad","#f0d800"]}, "legend": null}}},
          {"data": {"name": "segB"}, "mark": {"type": "point", "filled": true, "size": 14, "opacity": 1, "clip": true},
           "encoding": {"x": {"field": "x", "type": "quantitative"}, "y": {"field": "y", "type": "quantitative"},
             "color": {"field": "c", "type": "nominal", "scale": {"domain": ["R","G","N","P","L","A","Y"], "range": ["#dc2a1c","#6bb23c","#1b2a7e","#9e66b0","#a5d6df","#a3a5ad","#f0d800"]}, "legend": null}}},
          {"data": {"name": "segB"}, "mark": {"type": "point", "filled": true, "size": 14, "opacity": 1, "clip": true},
           "encoding": {"x": {"field": "x2", "type": "quantitative", "title": "φ (°)"}, "y": {"field": "y2", "type": "quantitative", "title": "ψ (°)"},
             "color": {"field": "c", "type": "nominal", "scale": {"domain": ["R","G","N","P","L","A","Y"], "range": ["#dc2a1c","#6bb23c","#1b2a7e","#9e66b0","#a5d6df","#a3a5ad","#f0d800"]}, "legend": null}}}
        ]
      }
    ],
    "spacing": 46
  },
  {
    "hconcat": [
      {
        "title": {"text": "(c)", "orient": "bottom", "anchor": "middle", "dx": 31, "fontStyle": "italic", "fontSize": 17, "offset": 6},
        "spacing": 25,
        "vconcat": [
          {"width": 586, "height": 143, "title": {"text": "Absolute differences in φ", "offset": 6},
           "data": {"name": "res"}, "mark": {"type": "bar", "size": 3.5},
           "encoding": {
             "x": {"field": "r", "type": "quantitative", "scale": {"domain": [0.3, 110.3], "nice": false, "zero": false}, "axis": {"values": [20, 40, 60, 80, 100], "title": null, "labelPadding": 5, "domainWidth": 2}},
             "y": {"field": "phi", "type": "quantitative", "scale": {"domain": [0, 20], "nice": false}, "axis": {"values": [0, 5, 10, 15, 20], "title": "Difference (°)", "minExtent": 30, "maxExtent": 30, "titlePadding": 9}},
             "color": {"field": "ss", "type": "nominal", "scale": {"domain": ["R","G","N","P","L","A","Y"], "range": ["#e1251b","#6cb33e","#1b2a7e","#a066b1","#a8d8e0","#a8a8a8","#f2dc00"]}, "legend": null}}},
          {"width": 586, "height": 142, "title": {"text": "Absolute differences in ψ", "offset": 6},
           "data": {"name": "res"}, "mark": {"type": "bar", "size": 3.5},
           "encoding": {
             "x": {"field": "r", "type": "quantitative", "scale": {"domain": [0.3, 110.3], "nice": false, "zero": false}, "axis": {"values": [20, 40, 60, 80, 100], "title": null, "labelPadding": 5, "domainWidth": 2}},
             "y": {"field": "psi", "type": "quantitative", "scale": {"domain": [0, 20], "nice": false}, "axis": {"values": [0, 5, 10, 15, 20], "title": "Difference (°)", "minExtent": 30, "maxExtent": 30, "titlePadding": 9}},
             "color": {"field": "ss", "type": "nominal", "scale": {"domain": ["R","G","N","P","L","A","Y"], "range": ["#e1251b","#6cb33e","#1b2a7e","#a066b1","#a8d8e0","#a8a8a8","#f2dc00"]}, "legend": null}}},
          {"width": 586, "height": 140, "title": {"text": "Absolute differences in ω", "offset": 10},
           "data": {"name": "res"}, "mark": {"type": "bar", "size": 3.5},
           "encoding": {
             "x": {"field": "r", "type": "quantitative", "scale": {"domain": [0.3, 110.3], "nice": false, "zero": false}, "axis": {"values": [20, 40, 60, 80, 100], "title": null, "labelPadding": 5, "domainWidth": 2}},
             "y": {"field": "om", "type": "quantitative", "scale": {"domain": [0, 20], "nice": false}, "axis": {"values": [0, 5, 10, 15, 20], "title": "Difference (°)", "minExtent": 30, "maxExtent": 30, "titlePadding": 9}},
             "color": {"field": "ss", "type": "nominal", "scale": {"domain": ["R","G","N","P","L","A","Y"], "range": ["#e1251b","#6cb33e","#1b2a7e","#a066b1","#a8d8e0","#a8a8a8","#f2dc00"]}, "legend": null}}},
          {"width": 586, "height": 143, "title": {"text": "Maximum absolute differences in χ₁, χ₂, χ₃ or χ₄", "offset": 9},
           "data": {"name": "res"}, "mark": {"type": "bar", "size": 3.5},
           "encoding": {
             "x": {"field": "r", "type": "quantitative", "scale": {"domain": [0.3, 110.3], "nice": false, "zero": false}, "axis": {"values": [20, 40, 60, 80, 100], "title": "Residue number", "labelPadding": 5, "titlePadding": 8, "domainWidth": 2}},
             "y": {"field": "chi", "type": "quantitative", "scale": {"domain": [0, 170], "nice": false}, "axis": {"values": [0, 40, 80, 120, 160], "title": "Difference (°)", "minExtent": 30, "maxExtent": 30, "titlePadding": 9}},
             "color": {"field": "sc", "type": "nominal", "scale": {"domain": ["R","G","N","P","L","A","Y"], "range": ["#e1251b","#6cb33e","#1b2a7e","#a066b1","#a8d8e0","#a8a8a8","#f2dc00"]}, "legend": null}}}
        ]
      },
      {
        "title": {"text": "(d)", "orient": "bottom", "anchor": "middle", "dx": 27, "fontStyle": "italic", "fontSize": 17, "offset": 6},
        "spacing": 25,
        "vconcat": [
          {"width": 586, "height": 143, "title": {"text": "Absolute differences in mean B for main-chain atoms", "offset": 6},
           "data": {"name": "res"}, "mark": {"type": "bar", "size": 3.5},
           "encoding": {
             "x": {"field": "r", "type": "quantitative", "scale": {"domain": [0.3, 110.3], "nice": false, "zero": false}, "axis": {"values": [20, 40, 60, 80, 100], "title": null, "labelPadding": 5, "domainWidth": 2}},
             "y": {"field": "dbm", "type": "quantitative", "scale": {"domain": [0, 30], "nice": false}, "axis": {"values": [0, 5, 10, 15, 20, 25, 30], "title": "Difference", "minExtent": 30, "maxExtent": 30, "titlePadding": 9}},
             "color": {"field": "ss", "type": "nominal", "scale": {"domain": ["R","G","N","P","L","A","Y"], "range": ["#e1251b","#6cb33e","#1b2a7e","#a066b1","#a8d8e0","#a8a8a8","#f2dc00"]}, "legend": null}}},
          {"width": 586, "height": 142, "title": {"text": "Absolute differences in mean B for side-chain atoms", "offset": 6},
           "data": {"name": "res"}, "mark": {"type": "bar", "size": 3.5},
           "encoding": {
             "x": {"field": "r", "type": "quantitative", "scale": {"domain": [0.3, 110.3], "nice": false, "zero": false}, "axis": {"values": [20, 40, 60, 80, 100], "title": null, "labelPadding": 5, "domainWidth": 2}},
             "y": {"field": "dbs", "type": "quantitative", "scale": {"domain": [0, 20], "nice": false}, "axis": {"values": [0, 5, 10, 15, 20], "title": "Difference", "minExtent": 30, "maxExtent": 30, "titlePadding": 9}},
             "color": {"field": "sc", "type": "nominal", "scale": {"domain": ["R","G","N","P","L","A","Y"], "range": ["#e1251b","#6cb33e","#1b2a7e","#a066b1","#a8d8e0","#a8a8a8","#f2dc00"]}, "legend": null}}},
          {"width": 586, "height": 140, "title": {"text": "Mean B values of main-chain atoms", "offset": 10},
           "data": {"name": "res"}, "mark": {"type": "bar", "size": 3.5},
           "encoding": {
             "x": {"field": "r", "type": "quantitative", "scale": {"domain": [0.3, 110.3], "nice": false, "zero": false}, "axis": {"values": [20, 40, 60, 80, 100], "title": null, "labelPadding": 5, "domainWidth": 2}},
             "y": {"field": "bm", "type": "quantitative", "scale": {"domain": [0, 60], "nice": false}, "axis": {"values": [0, 15, 30, 45, 60], "title": "Mean B value", "minExtent": 30, "maxExtent": 30, "titlePadding": 9}},
             "color": {"field": "ss", "type": "nominal", "scale": {"domain": ["R","G","N","P","L","A","Y"], "range": ["#e1251b","#6cb33e","#1b2a7e","#a066b1","#a8d8e0","#a8a8a8","#f2dc00"]}, "legend": null}}},
          {"width": 586, "height": 143, "title": {"text": "Mean B values of side-chain atoms", "offset": 3},
           "data": {"name": "res"}, "mark": {"type": "bar", "size": 3.5},
           "encoding": {
             "x": {"field": "r", "type": "quantitative", "scale": {"domain": [0.3, 110.3], "nice": false, "zero": false}, "axis": {"values": [20, 40, 60, 80, 100], "title": "Residue number", "labelPadding": 5, "titlePadding": 8, "domainWidth": 2}},
             "y": {"field": "bs", "type": "quantitative", "scale": {"domain": [0, 80], "nice": false}, "axis": {"values": [0, 20, 40, 60, 80], "title": "Mean B value", "minExtent": 30, "maxExtent": 30, "titlePadding": 9}},
             "color": {"field": "sc", "type": "nominal", "scale": {"domain": ["R","G","N","P","L","A","Y"], "range": ["#e1251b","#6cb33e","#1b2a7e","#a066b1","#a8d8e0","#a8a8a8","#f2dc00"]}, "legend": null}}}
        ]
      }
    ],
    "spacing": 60
  }
],
"spacing": 29
}
